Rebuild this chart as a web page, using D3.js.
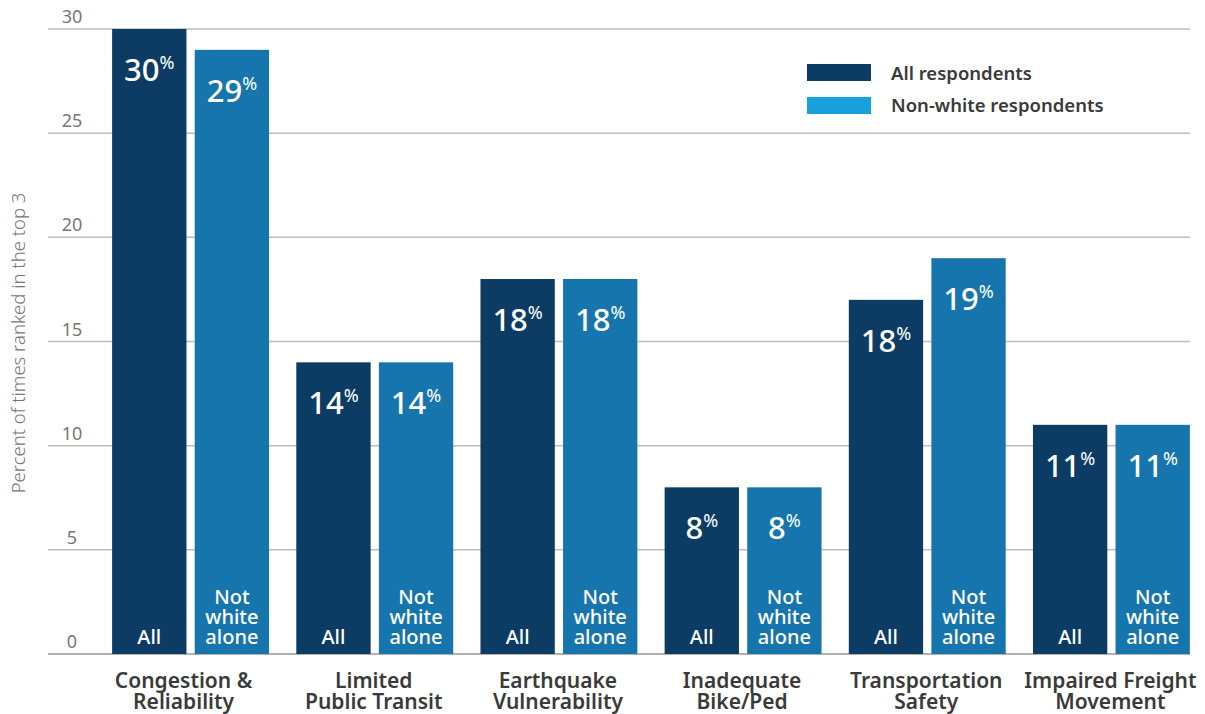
<!DOCTYPE html>
<html><head><meta charset="utf-8">
<script src="https://cdn.jsdelivr.net/npm/d3@7"></script>
<style>body{margin:0;background:#fff;} svg{display:block;}</style>
</head><body>
<svg id="c" width="1205" height="714"></svg>
<script>
const categories = [["Congestion &","Reliability"],["Limited","Public Transit"],["Earthquake","Vulnerability"],["Inadequate","Bike/Ped"],["Transportation","Safety"],["Impaired Freight","Movement"]];
const allValues = [30,14,18,8,17,11];
const nonWhiteValues = [29,14,18,8,19,11];
const allLabels = [30,14,18,8,18,11];
const nonWhiteLabels = [29,14,18,8,19,11];
const yTicks = [0,5,10,15,20,25,30];
const seriesNames = ["All respondents","Non-white respondents"];
const barTags = [["All"],["Not","white","alone"]];

const font = "'Noto Sans', 'Open Sans', sans-serif";
const dark = "#0c3c64", mid = "#1775ad", legendLight = "#1aa0dc";
const svg = d3.select("#c");
const y = d3.scaleLinear().domain([0,30]).range([654,29]);
const x = d3.scaleBand().domain(d3.range(categories.length)).range([98.5,1203.5]).paddingInner(0.148).paddingOuter(0.074);
const xs = d3.scaleBand().domain([0,1]).range([0,x.bandwidth()]).paddingInner(0.1);

// gridlines
svg.append("g").selectAll("line").data(yTicks).join("line")
  .attr("x1",48).attr("x2",1190).attr("y1",d=>y(d)).attr("y2",d=>y(d))
  .attr("stroke",d=>d===0?"#999":"#bdbdbd").attr("stroke-width",1.5);
svg.append("g").selectAll("text").data(yTicks).join("text")
  .attr("x",72).attr("y",d=>y(d)-6).attr("text-anchor","middle")
  .attr("font-family",font).attr("font-size",18).attr("fill","#777").text(d=>d);

svg.append("text").attr("transform","translate(25,343) rotate(-90)")
  .attr("text-anchor","middle").attr("font-family",font).attr("font-size",18.5).attr("font-weight",300).attr("fill","#777")
  .text("Percent of times ranked in the top 3");

const series = [allValues, nonWhiteValues];
const labels = [allLabels, nonWhiteLabels];
const colors = [dark, mid];
series.forEach((vals, s) => {
  const g = svg.append("g");
  g.selectAll("rect").data(vals).join("rect")
    .attr("x",(d,i)=>x(i)+xs(s)).attr("width",xs.bandwidth())
    .attr("y",d=>y(d)).attr("height",d=>y(0)-y(d)).attr("fill",colors[s]);
  const t = g.selectAll("text.v").data(vals).join("text").attr("class","v")
    .attr("x",(d,i)=>x(i)+xs(s)+xs.bandwidth()/2).attr("y",d=>y(d)+52)
    .attr("text-anchor","middle").attr("font-family",font).attr("fill","#fff");
  t.append("tspan").attr("font-size",31).attr("font-weight",500).text((d,i)=>labels[s][i]);
  t.append("tspan").attr("font-size",18).attr("dy",-12).text("%");
  const tags = barTags[s];
  const tt = g.selectAll("text.tag").data(vals).join("text").attr("class","tag")
    .attr("text-anchor","middle").attr("font-family",font).attr("font-size",20)
    .attr("font-weight",500).attr("fill","#fff");
  tags.forEach((line,k)=>{
    tt.append("tspan").attr("x",(d,i)=>x(i)+xs(s)+xs.bandwidth()/2)
      .attr("y",644-(tags.length-1-k)*20).text(line);
  });
});

// category labels
const cg = svg.append("g").selectAll("text").data(categories).join("text")
  .attr("text-anchor","middle").attr("font-family",font).attr("font-size",21)
  .attr("font-weight",600).attr("fill","#3a3a3a");
[0,1].forEach(k=>{
  cg.append("tspan").attr("x",(d,i)=>x(i)+x.bandwidth()/2 - (i===0?7:1)).attr("y",688+k*21).text(d=>d[k]);
});

// legend
const lg = svg.append("g");
[dark, legendLight].forEach((c,k)=>{
  lg.append("rect").attr("x",807).attr("y",64+k*33).attr("width",64).attr("height",17).attr("fill",c);
  lg.append("text").attr("x",891).attr("y",80+k*32).attr("font-family",font).attr("font-size",18.5)
    .attr("font-weight",600).attr("fill","#3a3a3a").text(seriesNames[k]);
});
</script>
</body></html>
